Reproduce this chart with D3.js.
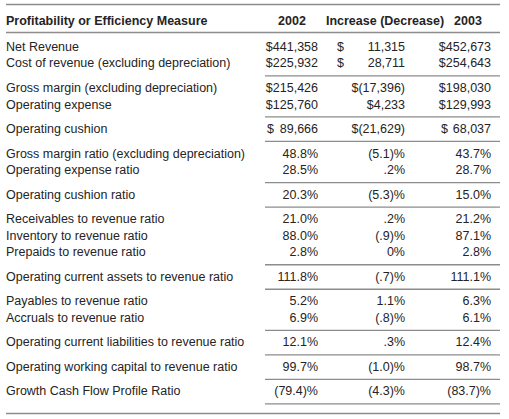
<!DOCTYPE html>
<html><head><meta charset="utf-8">
<script src="https://cdn.jsdelivr.net/npm/d3@7"></script>
<style>
html,body{margin:0;padding:0;background:#fff;}
svg text{font-family:"Liberation Sans",Arial,Helvetica,sans-serif;fill:#262324;}
</style></head>
<body>
<svg id="c" width="509" height="419"></svg>
<script>
const headers = ["Profitability or Efficiency Measure", "2002", "Increase (Decrease)", "2003"];
const measures = [
  "Net Revenue",
  "Cost of revenue (excluding depreciation)",
  "Gross margin (excluding depreciation)",
  "Operating expense",
  "Operating cushion",
  "Gross margin ratio (excluding depreciation)",
  "Operating expense ratio",
  "Operating cushion ratio",
  "Receivables to revenue ratio",
  "Inventory to revenue ratio",
  "Prepaids to revenue ratio",
  "Operating current assets to revenue ratio",
  "Payables to revenue ratio",
  "Accruals to revenue ratio",
  "Operating current liabilities to revenue ratio",
  "Operating working capital to revenue ratio",
  "Growth Cash Flow Profile Ratio"
];
const values2002 = ["$441,358","$225,932","$215,426","$125,760","$ 89,666","48.8%","28.5%","20.3%","21.0%","88.0%","2.8%","111.8%","5.2%","6.9%","12.1%","99.7%","(79.4)%"];
const valuesChange = ["$ 11,315","$ 28,711","$(17,396)","$4,233","$(21,629)","(5.1)%",".2%","(5.3)%",".2%","(.9)%","0%","(.7)%","1.1%","(.8)%",".3%","(1.0)%","(4.3)%"];
const values2003 = ["$452,673","$254,643","$198,030","$129,993","$ 68,037","43.7%","28.7%","15.0%","21.2%","87.1%","2.8%","111.1%","6.3%","6.1%","12.4%","98.7%","(83.7)%"];
const groups = [0,0,1,1,2,3,3,4,5,5,5,6,7,7,8,9,10];

const svg = d3.select("#c");
const fs = 12.5;
const lineColor = "#8c8c8c";

// vertical layout: row step + group gap
const rowStep = 16.6, groupGap = 7.9;
const y = d3.scaleLinear().domain([0, 1]).range([46.5, 46.5 + rowStep]);
const rowY = (i) => y(i) + groups[i] * groupGap;

// columns
const x = d3.scaleOrdinal().domain(["label","c2002","cChg","c2003"]).range([6, 318, 405, 491]);
const xLeft = {c2002: 267, cChg: 337, c2003: 441};
const headerCenter = {c2002: 292, cChg: 385, c2003: 468};
const cols = [["c2002", values2002], ["cChg", valuesChange], ["c2003", values2003]];

// rules
const ruleL = 6, ruleR = 500, sepL = 265;
function hline(x1, x2, yy, w) {
  svg.append("line").attr("x1", x1).attr("x2", x2).attr("y1", yy).attr("y2", yy)
    .attr("stroke", lineColor).attr("stroke-width", w || 1.3);
}
hline(ruleL, ruleR, 4.5, 1.5);
hline(ruleL, ruleR, 32.5, 1.3);

// header
svg.append("text").attr("x", x("label")).attr("y", 20.5).attr("dy", "0.35em")
  .attr("font-size", fs).attr("font-weight", "bold").text(headers[0]);
["c2002","cChg","c2003"].forEach((k, j) => {
  svg.append("text").attr("x", headerCenter[k]).attr("y", 20.5).attr("dy", "0.35em")
    .attr("text-anchor", "middle").attr("font-size", fs).attr("font-weight", "bold").text(headers[j + 1]);
});

// rows
const rows = svg.selectAll("g.row").data(measures).join("g").attr("class", "row");
rows.append("text").attr("x", x("label")).attr("y", (d, i) => rowY(i)).attr("dy", "0.35em")
  .attr("font-size", fs).text(d => d);

cols.forEach(([k, arr]) => {
  arr.forEach((v, i) => {
    const yy = rowY(i);
    if (v.startsWith("$ ")) {
      svg.append("text").attr("x", xLeft[k]).attr("y", yy).attr("dy", "0.35em")
        .attr("font-size", fs).text("$");
      svg.append("text").attr("x", x(k)).attr("y", yy).attr("dy", "0.35em")
        .attr("text-anchor", "end").attr("font-size", fs).text(v.slice(2));
    } else {
      svg.append("text").attr("x", x(k)).attr("y", yy).attr("dy", "0.35em")
        .attr("text-anchor", "end").attr("font-size", fs).text(v);
    }
  });
});

// group separators (numeric area)
const nGroups = d3.max(groups) + 1;
for (let g = 0; g < nGroups; g++) {
  const idx = groups.map((gg, i) => gg === g ? i : -1).filter(i => i >= 0);
  const last = d3.max(idx);
  const yy = rowY(last) + (rowStep + groupGap) / 2 + 0.5;
  hline(sepL, ruleR, yy, 1.3);
}
hline(ruleL, ruleR, 413.5, 1.5);
</script>
</body></html>
